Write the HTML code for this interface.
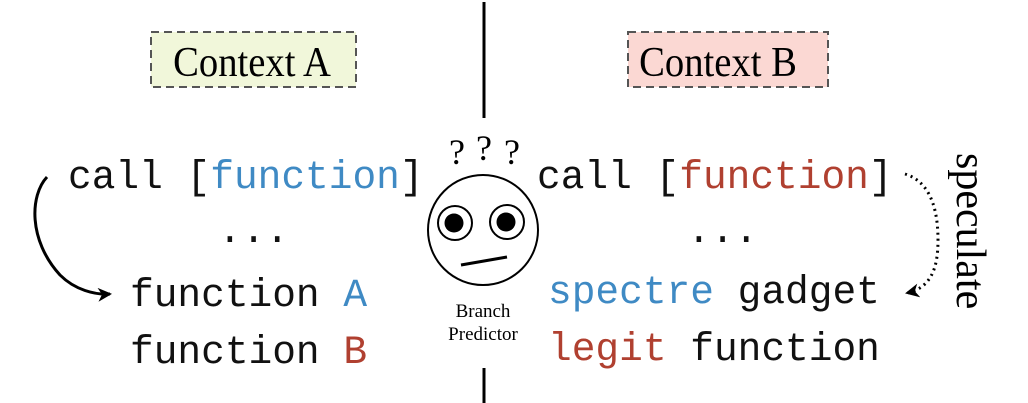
<!DOCTYPE html>
<html><head><meta charset="utf-8"><style>
html,body{margin:0;padding:0;background:#fff;}
svg{display:block;}
.m{font-family:"Liberation Mono",monospace;font-size:39.5px;}
.s{font-family:"Liberation Serif",serif;}
</style></head><body>
<svg width="1028" height="403" viewBox="0 0 1028 403">
<defs>
<marker id="ah2" markerWidth="14" markerHeight="14" refX="12" refY="7" orient="auto" markerUnits="userSpaceOnUse"><path d="M0,0 L14,7 L0,14 L4,7 Z" fill="#000"/></marker>
</defs>
<line x1="484" y1="2" x2="484" y2="118" stroke="#000" stroke-width="3"/>
<line x1="484" y1="368" x2="484" y2="403" stroke="#000" stroke-width="3"/>
<rect x="151" y="32" width="205" height="55" fill="#f1f7da" stroke="#555" stroke-width="2" stroke-dasharray="8,5"/>
<text x="252" y="76" text-anchor="middle" class="s" font-size="42" transform="translate(252,0) scale(0.92,1) translate(-252,0)">Context A</text>
<rect x="628" y="32" width="200" height="55" fill="#fbd8d3" stroke="#555" stroke-width="2" stroke-dasharray="8,5"/>
<text x="718" y="76" text-anchor="middle" class="s" font-size="42" transform="translate(718,0) scale(0.92,1) translate(-718,0)">Context B</text>

<text x="68" y="188" class="m" fill="#111">call [<tspan fill="#3f8ac4">function</tspan>]</text>
<text x="218" y="242" class="m" fill="#111">...</text>
<text x="130" y="306" class="m" fill="#111">function <tspan fill="#3f8ac4">A</tspan></text>
<text x="130" y="363" class="m" fill="#111">function <tspan fill="#b04030">B</tspan></text>

<text x="537" y="188" class="m" fill="#111">call [<tspan fill="#b04030">function</tspan>]</text>
<text x="687" y="242" class="m" fill="#111">...</text>
<text x="548" y="303" class="m" fill="#111"><tspan fill="#3f8ac4">spectre</tspan> gadget</text>
<text x="548" y="360" class="m" fill="#111"><tspan fill="#b04030">legit</tspan> function</text>

<path d="M47,177 C30,195 28,240 60,275 C75,290 95,295 110,294" fill="none" stroke="#000" stroke-width="3" marker-end="url(#ah2)"/>
<path d="M905,174 C925,180 938,200 938,240 C938,270 930,288 907,293" fill="none" stroke="#000" stroke-width="3" stroke-dasharray="2,4" marker-end="url(#ah2)"/>

<text transform="translate(957,153) rotate(90)" class="s" font-size="42">speculate</text>

<circle cx="483" cy="230" r="55" fill="#fff" stroke="#000" stroke-width="2"/>
<circle cx="455" cy="223" r="17" fill="#fff" stroke="#000" stroke-width="2"/>
<circle cx="454" cy="223" r="9.5" fill="#000"/>
<circle cx="507" cy="222" r="17" fill="#fff" stroke="#000" stroke-width="2"/>
<circle cx="506" cy="222" r="9.5" fill="#000"/>
<line x1="461" y1="265" x2="507" y2="257" stroke="#000" stroke-width="3"/>
<text x="457" y="164" text-anchor="middle" class="s" font-size="36">?</text>
<text x="484" y="160" text-anchor="middle" class="s" font-size="36">?</text>
<text x="512" y="164" text-anchor="middle" class="s" font-size="36">?</text>
<text x="483" y="317" text-anchor="middle" class="s" font-size="19">Branch</text>
<text x="483" y="340" text-anchor="middle" class="s" font-size="19">Predictor</text>
</svg>
</body></html>
